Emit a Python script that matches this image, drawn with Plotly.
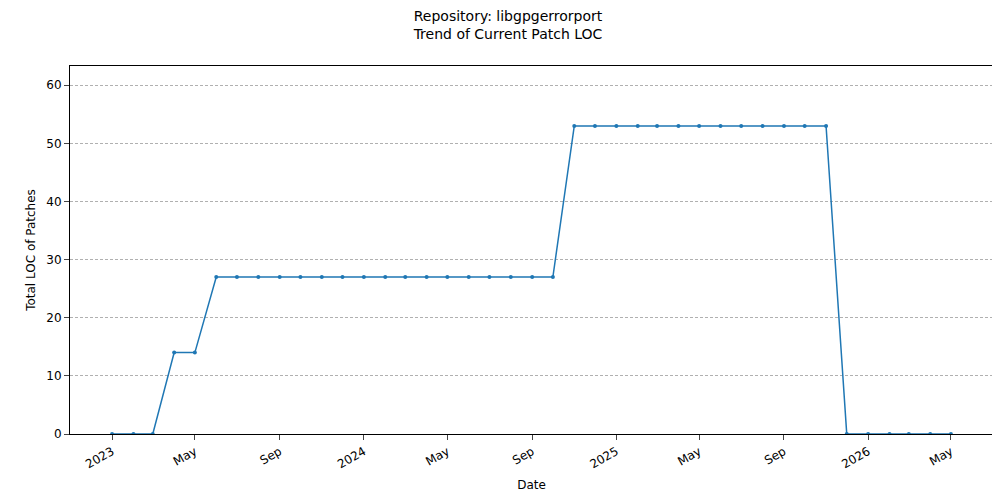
import plotly.graph_objects as go
import pandas as pd

dates = pd.date_range("2023-01-01", "2026-05-01", freq="MS")
values = [0, 0, 0, 14, 14] + [27]*17 + [53]*13 + [0]*6
tick_dates = ["2023-01-01","2023-05-01","2023-09-01","2024-01-01","2024-05-01","2024-09-01",
              "2025-01-01","2025-05-01","2025-09-01","2026-01-01","2026-05-01"]
tick_labels = ["2023","May","Sep","2024","May","Sep","2025","May","Sep","2026","May"]

fig = go.Figure(go.Scatter(x=dates, y=values, mode="lines+markers",
                           line=dict(color="#1f77b4", width=1.5),
                           marker=dict(size=4, color="#1f77b4")))
fig.update_layout(
    width=1000, height=500, plot_bgcolor="white", paper_bgcolor="white",
    margin=dict(l=62, r=15, t=58, b=74),
    font=dict(family="DejaVu Sans", size=12, color="black"),
    title=dict(text="Repository: libgpgerrorport<br>Trend of Current Patch LOC",
               x=0.5, xanchor="center", y=0.975, yanchor="top", font=dict(size=14)),
    showlegend=False,
)
fig.update_xaxes(range=["2022-11-01", "2026-07-01"], tickvals=tick_dates, ticktext=tick_labels,
                 tickangle=-30, showgrid=False, showline=True, mirror=True, linecolor="black",
                 ticks="outside", automargin=False, title=dict(text="Date", font=dict(size=12), standoff=10))
fig.update_yaxes(range=[0, 63.3], dtick=10, showgrid=True, gridcolor="#b0b0b0", griddash="3px,2px",
                 gridwidth=0.5, showline=True, mirror=True, linecolor="black", ticks="outside",
                 automargin=False, zeroline=False,
                 title=dict(text="Total LOC of Patches", font=dict(size=12), standoff=8))
fig.write_html("out.html")
